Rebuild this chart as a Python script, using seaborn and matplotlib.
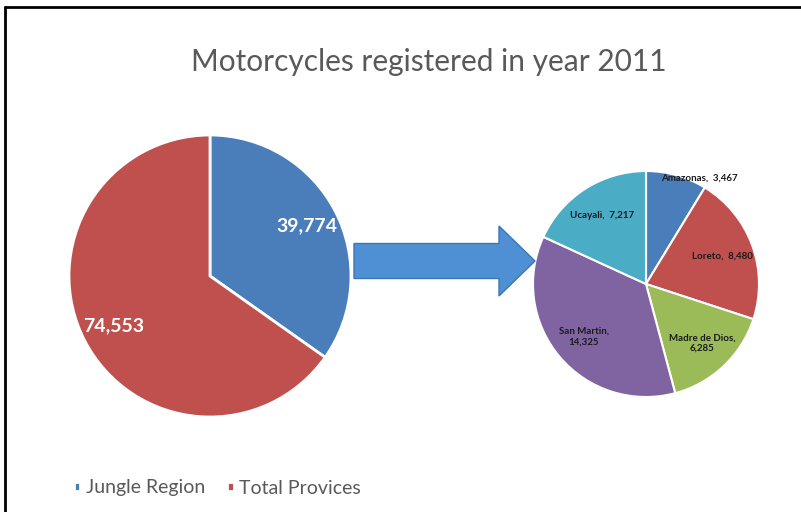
import matplotlib
matplotlib.use("Agg")
import matplotlib.pyplot as plt
from matplotlib.patches import FancyArrow
from matplotlib.lines import Line2D
import numpy as np
import seaborn as sns

# data
main_labels = ["Jungle Region", "Total Provices"]
main_values = [39774, 74553]
main_colors = ["#4a7ebb", "#c0504d"]

jungle_labels = ["Amazonas", "Loreto", "Madre de Dios", "San Martin", "Ucayali"]
jungle_values = [3467, 8480, 6285, 14325, 7217]
jungle_colors = ["#4a7ebb", "#c0504d", "#9bbb59", "#8064a2", "#4bacc6"]
jungle_text = ["Amazonas,  3,467", "Loreto,  8,480", "Madre de Dios,\n6,285",
               "San Martin,\n14,325", "Ucayali,  7,217"]

title = "Motorcycles registered in year 2011"

sns.set_theme(style="white")
plt.rcParams["font.family"] = ["Lato", "DejaVu Sans"]

W, H = 801, 512
fig = plt.figure(figsize=(W / 100, H / 100), dpi=100)
ax = fig.add_axes([0, 0, 1, 1])

# big pie
total = sum(main_values)
wedges, _, autotexts = ax.pie(
    main_values, colors=main_colors, startangle=90, counterclock=False,
    center=(210, H - 276), radius=141, frame=True,
    autopct=lambda p: f"{p * total / 100:,.0f}", pctdistance=0.77,
    wedgeprops=dict(edgecolor="white", linewidth=2),
    textprops=dict(color="white", fontsize=14, fontweight="bold"))

# small pie
sw, stexts = ax.pie(
    jungle_values, colors=jungle_colors, startangle=90, counterclock=False,
    center=(646, H - 284), radius=113, frame=True,
    labels=jungle_text, labeldistance=0.72,
    wedgeprops=dict(edgecolor="white", linewidth=1.5),
    textprops=dict(color="#1a1a1a", fontsize=7, fontweight="bold",
                   ha="center", va="center"))
# the first label sits on the rim
th = np.deg2rad((sw[0].theta1 + sw[0].theta2) / 2)
stexts[0].set_position((646 + 0.97 * 113 * np.cos(th) + 24,
                        H - 284 + 0.97 * 113 * np.sin(th)))
for t in stexts:
    t.set_ha("center")
    t.set_va("center")
    t.set_multialignment("center")

ax.set_xlim(0, W)
ax.set_ylim(0, H)
ax.set_aspect("equal")
ax.axis("off")

# arrow between pies
ax.add_patch(FancyArrow(354, H - 261, 181, 0, width=35, head_width=70,
                        head_length=36, length_includes_head=True,
                        facecolor="#4f8fd4", edgecolor="#3c76b5", linewidth=1))

ax.text(429, H - 62, title, ha="center", va="center", fontsize=21.5,
        color="#595959")

leg = ax.legend(wedges, main_labels, loc="center left",
                bbox_to_anchor=(56 / W, 1 - 488 / H), frameon=False,
                handlelength=0.35, handleheight=0.35, handletextpad=0.3,
                columnspacing=1.1, ncol=2, fontsize=14)
for t in leg.get_texts():
    t.set_color("#595959")

# screenshot frame
fig.add_artist(Line2D([5 / W, 1], [1 - 7 / H, 1 - 7 / H], color="black", lw=2))
fig.add_artist(Line2D([5 / W, 5 / W], [0, 1 - 7 / H], color="black", lw=2))

fig.savefig("out.png", dpi=100)
